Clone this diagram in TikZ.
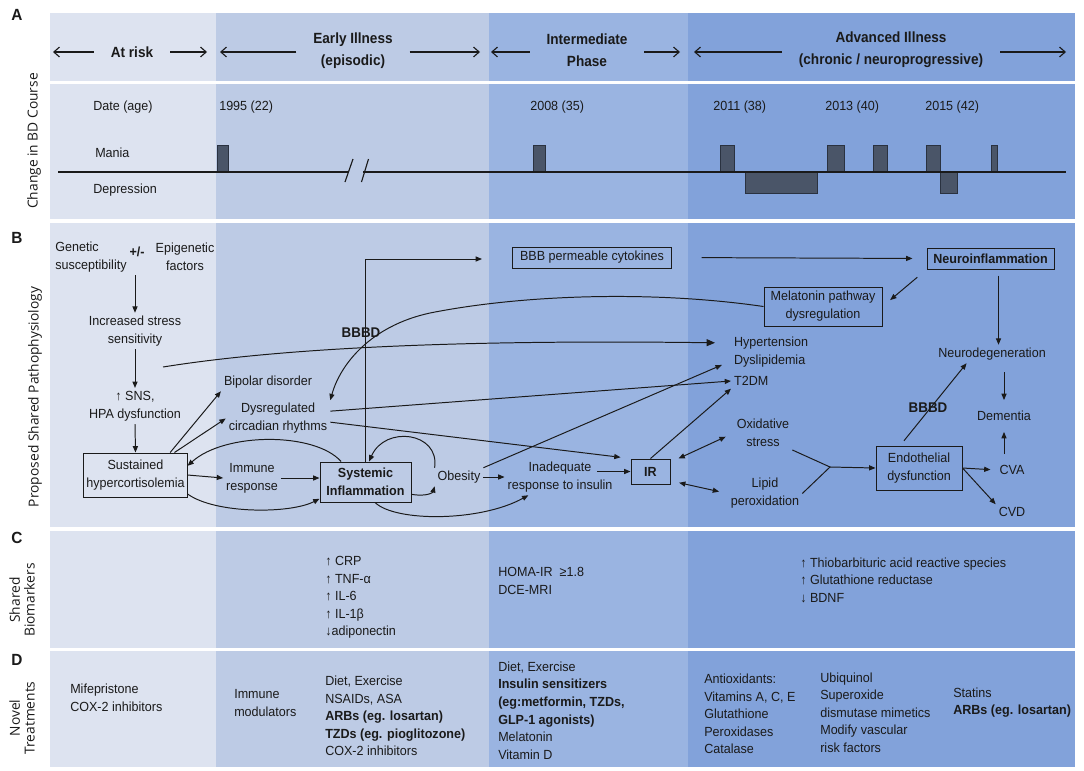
\documentclass[tikz,border=0pt]{standalone}
\usepackage{fontspec}
\setmainfont{Liberation Sans}[FakeStretch=0.95]
\newfontfamily\headfont{Liberation Sans}[FakeStretch=0.92]
\newfontfamily\sidefont{Open Sans}
\usetikzlibrary{arrows.meta}

\definecolor{riskcol}{HTML}{DDE3F0}
\definecolor{earlycol}{HTML}{BDCBE5}
\definecolor{intercol}{HTML}{9AB4E1}
\definecolor{advcol}{HTML}{82A2DA}
\definecolor{barfill}{HTML}{4A5568}
\definecolor{barline}{HTML}{2A3240}
\definecolor{ink}{HTML}{1A1A1A}

\begin{document}
\begin{tikzpicture}[
    x=0.025cm, y=-0.025cm,
    lbl/.style={font=\fontsize{9.4}{12.8}\selectfont, align=center, inner sep=2pt, text=ink},
    lst/.style={font=\fontsize{9.4}{12.5}\selectfont, align=left, anchor=west, inner sep=0pt, text=ink},
    bx/.style={lbl, draw=ink, line width=0.7pt, inner sep=1pt},
    bxb/.style={bx, font=\bfseries\fontsize{9.4}{12.8}\selectfont},
    head/.style={font=\headfont\bfseries\fontsize{10.5}{15.5}\selectfont, align=center, text=ink},
    side/.style={font=\sidefont\fontsize{9.8}{10.5}\selectfont, rotate=90, align=center, text=ink},
    panel/.style={font=\bfseries\fontsize{11.5}{12}\selectfont, text=ink},
    bbbd/.style={font=\bfseries\fontsize{10}{12}\selectfont, text=ink, inner sep=0pt},
    link/.style={draw=ink, line width=0.7pt},
    arr/.style={link, -{Triangle[length=4.5pt,width=3.6pt]}},
    bigarr/.style={link, -{Triangle[length=6pt,width=5pt]}},
    darr/.style={link, {Triangle[length=4.5pt,width=3.6pt]}-{Triangle[length=4.5pt,width=3.6pt]}},
    harr/.style={draw=ink, line width=0.8pt, -{Straight Barb[length=4pt,width=7pt]}, shorten <=0.3cm},
    bar/.style={fill=barfill, draw=barline, line width=0.5pt}
]
\useasboundingbox (0,0) rectangle (1084,770);

% Bands
\foreach \ya/\yb in {13/81, 84/219, 223/527, 531/648, 651/767} {
  \fill[riskcol] (50,\ya) rectangle (216,\yb);
  \fill[earlycol] (216,\ya) rectangle (489,\yb);
  \fill[intercol] (489,\ya) rectangle (688,\yb);
  \fill[advcol] (688,\ya) rectangle (1075,\yb);
}

% Panel letters and side labels
\node[panel] (pA) at (17,15) {A};
\node[panel] (pB) at (17,238) {B};
\node[panel] (pC) at (17,538) {C};
\node[panel] (pD) at (17,660) {D};
\node[side] (sA) at (34,141) {Change in BD Course};
\node[side] (sB) at (35,397) {Proposed Shared Pathophysiology};
\node[side] (sC) at (22,600) {Shared\\Biomarkers};
\node[side] (sD) at (22,718) {Novel\\Treatments};

% A: stages
\node[head] (risk) at (132,52) {At risk};
\node[head] (early) at (353,50.5) {Early Illness\\(episodic)};
\node[head] (inter) at (587,50) {Intermediate\\Phase};
\node[head] (adv) at (891,49.5) {Advanced Illness\\(chronic / neuroprogressive)};
\coordinate (riskL) at (53,52);
\coordinate (riskR) at (207,52);
\coordinate (earlyL) at (220,52);
\coordinate (earlyR) at (480,52);
\coordinate (interL) at (491,52);
\coordinate (interR) at (680,52);
\coordinate (advL) at (694,52);
\coordinate (advR) at (1066,52);
\draw[harr] (risk.west) -- (riskL);
\draw[harr] (risk.east) -- (riskR);
\draw[harr] (early.west |- earlyL) -- (earlyL);
\draw[harr] (early.east |- earlyR) -- (earlyR);
\draw[harr] (inter.west |- interL) -- (interL);
\draw[harr] (inter.east |- interR) -- (interR);
\draw[harr] (adv.west |- advL) -- (advL);
\draw[harr] (adv.east |- advR) -- (advR);

% A: timeline
\node[lst] (date) at (93,107) {Date (age)};
\node[lst] (y95) at (219,107) {1995 (22)};
\node[lst] (y08) at (530,107) {2008 (35)};
\node[lst] (y11) at (713,107) {2011 (38)};
\node[lst] (y13) at (825,107) {2013 (40)};
\node[lst] (y15) at (925,107) {2015 (42)};
\node[lst] (mania) at (95,153) {Mania};
\node[lst] (depr) at (93,190) {Depression};
\foreach \a/\b in {217/228, 533/545, 720/734, 827/844, 873/887, 926/940, 991/997}
  \draw[bar] (\a,145) rectangle (\b,172);
\foreach \a/\b in {745/817, 940/957}
  \draw[bar] (\a,172) rectangle (\b,193);
\draw[ink, line width=1pt] (58,172) -- (348,172) (363,172) -- (1066,172);
\draw[ink, line width=0.8pt] (345,182) -- (353,159) (361.5,182) -- (368.5,159);

% B: nodes
\node[lbl, align=left] (gen) at (91,257) {Genetic\\susceptibility};
\node[lbl, font=\bfseries\fontsize{9.4}{12.8}\selectfont] (pm) at (137,252) {+/-};
\node[lbl] (epi) at (185,257) {Epigenetic\\factors};
\node[lbl] (stress) at (135,331) {Increased stress\\sensitivity};
\node[lbl] (sns) at (135,406) {↑ SNS,\\HPA dysfunction};
\node[bx, minimum width=2.575cm, minimum height=1.1cm] (sus) at (135.5,475) {Sustained\\hypercortisolemia};
\node[lbl] (bip) at (268,382) {Bipolar disorder};
\node[lbl] (dys) at (278,418.5) {Dysregulated\\circadian rhythms};
\node[lbl] (imm) at (252,478) {Immune\\response};
\node[bxb, minimum width=2.275cm, minimum height=1cm] (si) at (365.5,482) {Systemic\\Inflammation};
\node[lbl] (obe) at (459,477) {Obesity};
\node[lbl] (inad) at (560,477) {Inadequate\\response to insulin};
\node[bxb, minimum width=0.975cm, minimum height=0.625cm] (ir) at (650.5,471.5) {IR};
\node[bx, minimum width=3.95cm, minimum height=0.525cm] (bbb) at (592,257.5) {BBB permeable cytokines};
\node[bxb, minimum width=3.175cm, minimum height=0.525cm] (neuro) at (990.5,258.5) {Neuroinflammation};
\node[bx, minimum width=2.95cm, minimum height=0.975cm] (mel) at (823,306.5) {Melatonin pathway\\dysregulation};
\node[lbl, anchor=west] (hyp) at (731,343) {Hypertension};
\node[lbl, anchor=west] (dysl) at (731,361) {Dyslipidemia};
\node[lbl, anchor=west] (t2dm) at (731,381) {T2DM};
\node[lbl] (ox) at (763,433) {Oxidative\\stress};
\node[lbl] (lip) at (765,493.5) {Lipid\\peroxidation};
\node[bx, minimum width=2.15cm, minimum height=1.1cm] (endo) at (919,468) {Endothelial\\dysfunction};
\node[lbl] (ndeg) at (992,354) {Neurodegeneration};
\node[lbl] (dem) at (1004,416) {Dementia};
\node[lbl] (cva) at (1012,470) {CVA};
\node[lbl] (cvd) at (1012,512) {CVD};
\node[bbbd] (bbbdA) at (361,333) {BBBD};
\node[bbbd] (bbbdB) at (928,408) {BBBD};
\coordinate (strout) at (163,367);
\coordinate (bbbin) at (482,259);
\coordinate (jn) at (830,467);

% B: connectors
\draw[arr] (stress |- gen.south) -- (stress.north);
\draw[arr] (stress.south) -- (sns.north);
\draw[arr] (sns.south) -- (sus.north);
\draw[arr] (sus.33) -- (bip.south west);
\draw[arr] (sus.30) -- (dys.west);
\draw[arr] (sus.east) -- (imm.west);
\draw[arr] (imm.east) -- (imm.east -| si.west);
\draw[arr] (si.140) .. controls (315,432) and (225,432) .. (sus.10);
\draw[arr] (sus.-20) .. controls (215,514) and (290,514) .. (si.200);
\draw[arr] (si.-15) .. controls (428,497) and (433,492) .. (obe.south west);
\draw[arr] (obe.north west) .. controls (440,432) and (385,425) .. (si.80);
\draw[arr] (si.north) |- (bbbin);
\draw[arr, shorten <=0.75cm, shorten >=0.35cm] (bbb.east) -- (neuro.west);
\draw[arr, shorten <=0.3cm, shorten >=0.25cm] (neuro.south west) -- (mel.east);
\draw[arr] (mel.west) .. controls (650,290) and (520,295) .. (430,313)
  .. controls (370,326) and (340,365) .. (dys.north east);
\draw[bigarr, shorten >=0.4cm] (strout) .. controls (300,345) and (500,340) .. (hyp.west);
\draw[arr] (dys.8) -- (t2dm.west);
\draw[arr, shorten >=0.25cm] (dys.-4) -- (ir.north west);
\draw[arr, shorten >=0.25cm] (obe.north east) -- (dysl.west);
\draw[arr] (obe.east) -- (inad.west);
\draw[arr] ([xshift=-0.45cm]inad.east |- ir.west) -- (ir.west);
\draw[arr] (si.-65) .. controls (395,522) and (480,522) .. (inad.-150);
\draw[arr] (ir.north) -- (t2dm.south west);
\draw[darr, shorten <=0.22cm, shorten >=0.22cm] (ir.25) -- (ox.west);
\draw[darr, shorten <=0.22cm, shorten >=0.22cm] (ir.-25) -- (lip.west);
\draw[link] (ox.south east) -- (jn) -- (lip.east);
\draw[arr] (jn) -- (endo.west);
\draw[arr, shorten <=0.15cm] (endo.130) -- (ndeg.-160);
\draw[arr, shorten <=0.15cm] ([xshift=0.2cm]neuro.south) -- ([xshift=0.2cm]neuro.south |- ndeg.north);
\draw[arr, shorten <=0.22cm, shorten >=0.2cm] (ndeg.south -| dem) -- (dem.north);
\draw[arr, shorten <=0.2cm, shorten >=0.2cm] (cva.north -| dem) -- (dem.south);
\draw[arr, shorten >=0.15cm] (endo.east) -- (cva.west);
\draw[arr] (endo.east) -- (cvd.north west);

% C: biomarkers
\node[lst] (bmEarly) at (325,597.5) {↑ CRP\\↑ TNF-α\\↑ IL-6\\↑ IL-1β\\↓adiponectin};
\node[lst] (bmInter) at (498,581) {HOMA-IR\ \ ≥1.8\\DCE-MRI};
\node[lst] (bmAdv) at (800,580) {↑ Thiobarbituric acid reactive species\\↑ Glutathione reductase\\↓ BDNF};

% D: treatments
\node[lst] (txRisk) at (70,698) {Mifepristone\\COX-2 inhibitors};
\node[lst] (txImm) at (234,703) {Immune\\modulators};
\node[lst] (txEarly) at (325,716) {Diet, Exercise\\NSAIDs, ASA\\\textbf{ARBs (eg. losartan)}\\\textbf{TZDs (eg. pioglitozone)}\\COX-2 inhibitors};
\node[lst] (txInter) at (498,710.5) {Diet, Exercise\\\textbf{Insulin sensitizers}\\\textbf{(eg:metformin, TZDs,}\\\textbf{GLP-1 agonists)}\\Melatonin\\Vitamin D};
\node[lst] (txAnti) at (704,714) {Antioxidants:\\Vitamins A, C, E\\Glutathione\\Peroxidases\\Catalase};
\node[lst] (txUbi) at (820,712.5) {Ubiquinol\\Superoxide\\dismutase mimetics\\Modify vascular\\risk factors};
\node[lst] (txStat) at (953,702.5) {Statins\\\textbf{ARBs (eg. losartan)}};

\end{tikzpicture}
\end{document}
